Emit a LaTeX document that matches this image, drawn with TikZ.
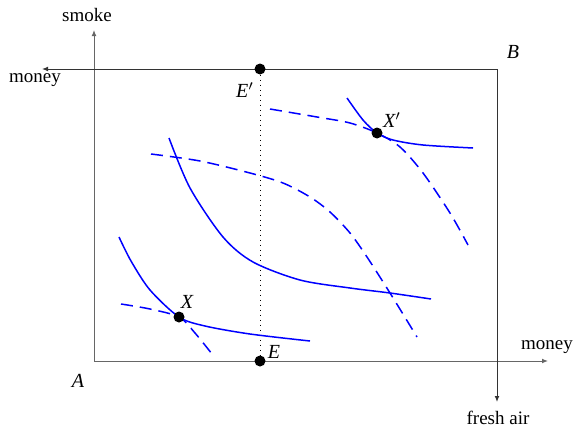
\documentclass[tikz,border=0pt]{standalone}
\usepackage{fontspec}
\setmainfont{Liberation Serif}
\usetikzlibrary{arrows.meta}
\begin{document}
\begin{tikzpicture}[x=0.5pt,y=-0.5pt,
  axisA/.style={draw=black!60,line width=0.5pt,-{Latex[length=3pt,width=2.4pt]}},
  axisB/.style={draw=black!80,line width=0.5pt,-{Latex[length=3pt,width=2.4pt]}},
  curve/.style={blue,line width=0.75pt},
  dcurve/.style={blue,line width=0.75pt,dash pattern=on 6pt off 3.5pt},
  dot/.style={circle,fill=black,inner sep=0pt,minimum size=5.5pt},
  lab/.style={font=\fontsize{9.5}{11}\selectfont},
  ilab/.style={font=\fontsize{10}{12}\selectfont\itshape}]
\useasboundingbox (0,0) rectangle (576,428);
% origins
\coordinate (A) at (94,361);
\coordinate (B) at (497,69);
\coordinate (smoketip) at (94,30);
\coordinate (moneyAtip) at (548,361);
\coordinate (moneyBtip) at (42,69);
\coordinate (freshtip) at (497,402);
% axes of A
\draw[axisA] (A) -- (smoketip);
\draw[axisA] (A) -- (moneyAtip);
% axes of B
\draw[axisB] (B) -- (moneyBtip);
\draw[axisB] (B) -- (freshtip);
% axis labels
\node[lab] (ls) at (87,15) {smoke};
\node[lab] (lma) at (547,347) {money};
\node[lab] (lmb) at (35,80) {money};
\node[lab] (lf) at (498,418) {fresh air};
\node[ilab] (lA) at (78,381) {A};
\node[ilab] (lB) at (513,52) {B};
% E and E'
\node[dot] (Ep) at (260,69) {};
\node[dot] (E) at (260,361) {};
\draw[line width=0.5pt,dotted] (Ep) -- (E);
\node[ilab] (lEp) at (245,90) {E$'$};
\node[ilab] (lE) at (274,352) {E};
% lower-left curves
\draw[curve] plot[smooth,tension=0.5] coordinates {(119,237) (131,261) (150,290) (179,317) (205,326) (250,334) (310,341)};
\draw[dcurve] plot[smooth,tension=0.5] coordinates {(121,304) (150,309) (179,317) (195,333) (212,354)};
% middle curves
\draw[curve] plot[smooth,tension=0.5] coordinates {(169,138) (190,188) (223,237) (253,262) (300,280) (350,288) (390,293) (431,299)};
\draw[dcurve] plot[smooth,tension=0.5] coordinates {(151,154) (200,161) (250,173) (283,183) (310,197) (330,212) (350,233) (367,257) (390,293) (417,337)};
% upper-right curves
\draw[curve] plot[smooth,tension=0.5] coordinates {(347,98) (363,120) (377,133) (393,140) (423,145) (473,148)};
\draw[dcurve] plot[smooth,tension=0.5] coordinates {(270,109) (317,117) (350,123) (377,133) (400,147) (423,173) (450,213) (468,245)};
% points X and X'
\node[dot] (X) at (179,317) {};
\node[dot] (Xp) at (377,133) {};
\node[ilab] (lX) at (187,302) {X};
\node[ilab] (lXp) at (392,120) {X$'$};
\end{tikzpicture}
\end{document}
